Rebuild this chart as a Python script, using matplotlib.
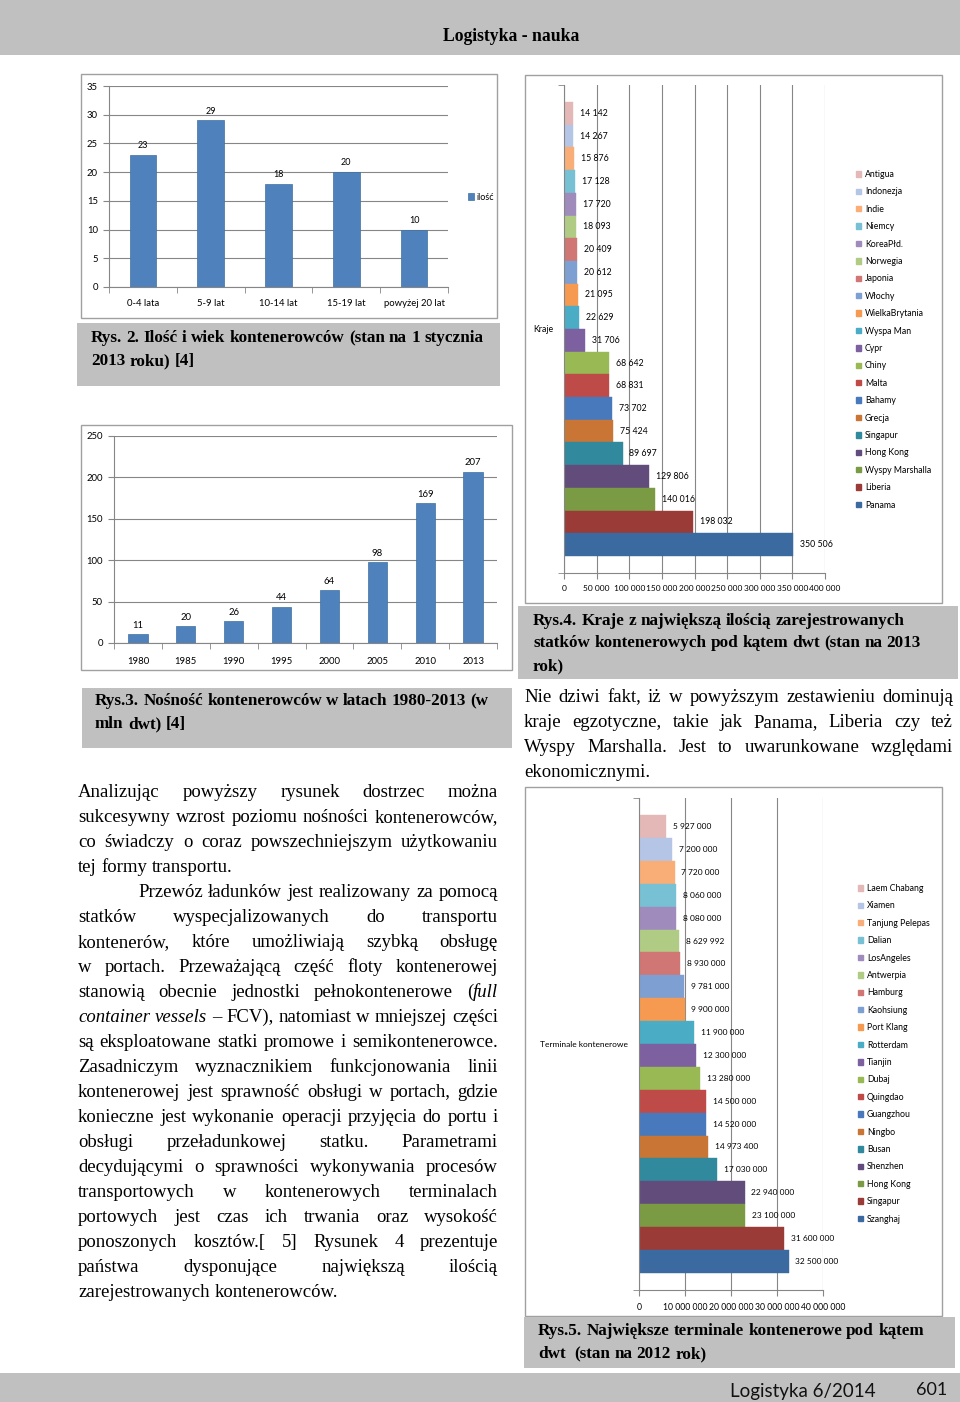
import numpy as np
import matplotlib.pyplot as plt
from matplotlib.patches import Rectangle, Patch

W, H = 960, 1402

# ---- data ----
age_groups = ['0-4 lata', '5-9 lat', '10-14 lat', '15-19 lat', 'powyżej 20 lat']
age_counts = [23, 29, 18, 20, 10]

years = ['1980', '1985', '1990', '1995', '2000', '2005', '2010', '2013']
capacity = [11, 20, 26, 44, 64, 98, 169, 207]

# top to bottom as drawn
countries = ['Antigua', 'Indonezja', 'Indie', 'Niemcy', 'KoreaPłd.', 'Norwegia', 'Japonia',
             'Włochy', 'WielkaBrytania', 'Wyspa Man', 'Cypr', 'Chiny', 'Malta', 'Bahamy',
             'Grecja', 'Singapur', 'Hong Kong', 'Wyspy Marshalla', 'Liberia', 'Panama']
country_dwt = [14142, 14267, 15876, 17128, 17720, 18093, 20409, 20612, 21095, 22629,
               31706, 68642, 68831, 73702, 75424, 89697, 129806, 140016, 198032, 350506]

terminals = ['Laem Chabang', 'Xiamen', 'Tanjung Pelepas', 'Dalian', 'LosAngeles', 'Antwerpia',
             'Hamburg', 'Kaohsiung', 'Port Klang', 'Rotterdam', 'Tianjin', 'Dubaj', 'Quingdao',
             'Guangzhou', 'Ningbo', 'Busan', 'Shenzhen', 'Hong Kong', 'Singapur', 'Szanghaj']
terminal_vals = [5927000, 7200000, 7720000, 8060000, 8080000, 8629992, 8930000, 9781000,
                 9900000, 11900000, 12300000, 13280000, 14500000, 14520000, 14973400,
                 17030000, 22940000, 23100000, 31600000, 32500000]

palette = ['#e4b8b7', '#b4c5e5', '#f9ae78', '#78c1d4', '#a08bbd', '#b0cb84', '#d07675',
           '#7e9fd2', '#f59a50', '#4aacc5', '#7d60a0', '#98b954', '#be4b48', '#4879bd',
           '#c87535', '#31899d', '#624c7c', '#7a9a43', '#9b3b38', '#3b6aa0']

left_lines = [
    ("Analizując powyższy rysunek dostrzec można", True, 0),
    ("sukcesywny wzrost poziomu nośności kontenerowców,", True, 0),
    ("co świadczy o coraz powszechniejszym użytkowaniu", True, 0),
    ("tej formy transportu.", False, 0),
    ("Przewóz ładunków jest realizowany za pomocą", True, 60),
    ("statków wyspecjalizowanych do transportu", True, 0),
    ("kontenerów, które umożliwiają szybką obsługę", True, 0),
    ("w portach. Przeważającą część floty kontenerowej", True, 0),
    ("stanowią obecnie jednostki pełnokontenerowe (*full*", True, 0),
    ("*container* *vessels* – FCV), natomiast w mniejszej części", True, 0),
    ("są eksploatowane statki promowe i semikontenerowce.", True, 0),
    ("Zasadniczym wyznacznikiem funkcjonowania linii", True, 0),
    ("kontenerowej jest sprawność obsługi w portach, gdzie", True, 0),
    ("konieczne jest wykonanie operacji przyjęcia do portu i", True, 0),
    ("obsługi przeładunkowej statku. Parametrami", True, 0),
    ("decydującymi o sprawności wykonywania procesów", True, 0),
    ("transportowych w kontenerowych terminalach", True, 0),
    ("portowych jest czas ich trwania oraz wysokość", True, 0),
    ("ponoszonych kosztów.[ 5] Rysunek 4 prezentuje", True, 0),
    ("państwa dysponujące największą ilością", True, 0),
    ("zarejestrowanych kontenerowców.", False, 0),
]
right_lines = [
    ("Nie dziwi fakt, iż w powyższym zestawieniu dominują", True, 0),
    ("kraje egzotyczne, takie jak Panama, Liberia czy też", True, 0),
    ("Wyspy Marshalla. Jest to uwarunkowane względami", True, 0),
    ("ekonomicznymi.", False, 0),
]

SERIF = 'Liberation Serif'
CF = ['Lato', 'DejaVu Sans']
GRID = '#868686'
BLUE = '#4f81bd'


def fmt(v):
    return f"{v:,}".replace(",", " ")


fig = plt.figure(figsize=(W / 100, H / 100), dpi=100)
bg = fig.add_axes([0, 0, 1, 1])
bg.set_xlim(0, W)
bg.set_ylim(H, 0)
bg.axis('off')
renderer = fig.canvas.get_renderer()


def px_axes(x0, y0, x1, y1):
    return fig.add_axes([x0 / W, 1 - y1 / H, (x1 - x0) / W, (y1 - y0) / H])


def rect(x0, y0, x1, y1, fc, ec='none', lw=0):
    bg.add_patch(Rectangle((x0, y0), x1 - x0, y1 - y0, fc=fc, ec=ec, lw=lw))


def text_line(x0, x1, y, line, justify, size, weight='normal'):
    words = line.split(' ')
    items, widths = [], []
    for w in words:
        parts, off = [], 0
        for k, seg in enumerate(w.split('*')):
            if not seg:
                continue
            t = bg.text(0, y, seg, fontsize=size, family=SERIF, weight=weight,
                        style='italic' if k % 2 else 'normal', va='baseline', ha='left')
            parts.append((t, off))
            off += t.get_window_extent(renderer=renderer).width
        items.append(parts)
        widths.append(off)
    if justify and len(words) > 1:
        gap = (x1 - x0 - sum(widths)) / (len(words) - 1)
    else:
        gap = 0.25 * size * 100 / 72
    x = x0
    for parts, w in zip(items, widths):
        for t, off in parts:
            t.set_x(x + off)
        x += w + gap


# ---- page furniture ----
rect(0, 0, W, 55, '#c0c0c0')
bg.text(511, 41, 'Logistyka - nauka', fontsize=12.7, family=SERIF, weight='bold', ha='center', va='baseline')
rect(0, 1373, W, H, '#c0c0c0')
bg.text(730, 1397, 'Logistyka 6/2014', fontsize=13.5, family=CF, ha='left', va='baseline', color='#111')
bg.text(916, 1395, '601', fontsize=13, family=CF, ha='left', va='baseline', color='#111')

# chart frames
for x0, y0, x1, y1 in [(81, 74, 497, 318), (81, 425, 512, 670), (525, 75, 942, 603), (525, 787, 942, 1316)]:
    rect(x0, y0, x1, y1, 'white', '#a0a0a0', 1)

# captions
rect(77, 323, 500, 386, '#c0c0c0')
text_line(91, 0, 342, "Rys. 2. Ilość i wiek kontenerowców (stan na 1 stycznia", False, 12.3, 'bold')
text_line(91, 0, 365, "2013 roku) [4]", False, 12.3, 'bold')
rect(82, 688, 512, 748, '#c0c0c0')
text_line(95, 0, 705, "Rys.3. Nośność kontenerowców w latach 1980-2013 (w", False, 12.3, 'bold')
text_line(95, 0, 728, "mln dwt) [4]", False, 12.3, 'bold')
rect(518, 606, 958, 679, '#c0c0c0')
text_line(533, 0, 625, "Rys.4. Kraje z największą ilością zarejestrowanych", False, 12.3, 'bold')
text_line(533, 0, 647, "statków kontenerowych pod kątem dwt (stan na 2013", False, 12.3, 'bold')
text_line(533, 0, 670, "rok)", False, 12.3, 'bold')
rect(524, 1317, 955, 1368, '#c0c0c0')
text_line(538, 0, 1335, "Rys.5. Największe terminale kontenerowe pod kątem", False, 12.3, 'bold')
text_line(538, 0, 1358, "dwt  (stan na 2012 rok)", False, 12.3, 'bold')

# body text
for i, (ln, just, ind) in enumerate(left_lines):
    text_line(78 + ind, 498, 797 + 25 * i, ln, just, 13.5)
for i, (ln, just, ind) in enumerate(right_lines):
    text_line(524 + ind, 953, 702 + 25 * i, ln, just, 13.5)


def style_axes(ax):
    for s in ['top', 'right']:
        ax.spines[s].set_visible(False)
    for s in ['left', 'bottom']:
        ax.spines[s].set_color(GRID)
        ax.spines[s].set_linewidth(0.8)
    ax.set_axisbelow(True)
    ax.set_facecolor('none')


# ---- Rys. 2 ----
ax1 = px_axes(109, 86, 448, 287)
style_axes(ax1)
x = np.arange(len(age_groups))
ax1.bar(x, age_counts, width=0.39, color=BLUE, edgecolor='#40709f', lw=0.5, label='ilość')
for xi, v in zip(x, age_counts):
    ax1.annotate(str(v), (xi, v), xytext=(0, 3.5), textcoords='offset points',
                 ha='center', va='bottom', fontsize=6.5, family=CF)
ax1.set_xlim(-0.5, len(age_groups) - 0.5)
ax1.set_ylim(0, 35)
ax1.set_yticks(range(0, 36, 5))
ax1.set_xticks(x, age_groups)
ax1.set_xticks(np.arange(-0.5, len(age_groups), 1), minor=True)
ax1.grid(axis='y', color=GRID, lw=0.8)
ax1.tick_params(axis='x', which='major', length=0, pad=9, labelsize=6.8)
ax1.tick_params(axis='x', which='minor', length=4, color=GRID)
ax1.tick_params(axis='y', length=4, color=GRID, pad=4, labelsize=6.8)
for lab in ax1.get_xticklabels() + ax1.get_yticklabels():
    lab.set_family(CF)
ax1.legend(loc='center left', bbox_to_anchor=(463 / W, 1 - 197 / H), bbox_transform=fig.transFigure,
           frameon=False, handlelength=0.7, handleheight=0.7, handletextpad=0.3,
           borderpad=0, prop={'family': CF, 'size': 6.5})

# ---- Rys. 3 ----
ax2 = px_axes(114, 436, 497, 643)
style_axes(ax2)
x = np.arange(len(years))
ax2.bar(x, capacity, width=0.4, color=BLUE, edgecolor='#40709f', lw=0.5)
for xi, v in zip(x, capacity):
    ax2.annotate(str(v), (xi, v), xytext=(0, 3), textcoords='offset points',
                 ha='center', va='bottom', fontsize=6.8, family=CF)
ax2.set_xlim(-0.5, len(years) - 0.5)
ax2.set_ylim(0, 250)
ax2.set_yticks(range(0, 251, 50))
ax2.set_xticks(x, years)
ax2.set_xticks(np.arange(-0.5, len(years), 1), minor=True)
ax2.grid(axis='y', color=GRID, lw=0.8)
ax2.tick_params(axis='x', which='major', length=0, pad=10, labelsize=6.8)
ax2.tick_params(axis='x', which='minor', length=4, color=GRID)
ax2.tick_params(axis='y', length=4, color=GRID, pad=4, labelsize=6.8)
for lab in ax2.get_xticklabels() + ax2.get_yticklabels():
    lab.set_family(CF)


def hbar_chart(ax, names, vals, xmax, step, cat_label, lab_size, tick_size, legend_xy):
    style_axes(ax)
    n = len(names)
    pos = np.arange(n)[::-1]
    ax.barh(pos, vals, height=1.0, color=palette, edgecolor=palette, lw=0.3)
    for p, v in zip(pos, vals):
        ax.annotate(fmt(v), (v, p), xytext=(5, 0), textcoords='offset points',
                    ha='left', va='center', fontsize=lab_size, family=CF)
    ax.set_xlim(0, xmax)
    ax.set_ylim(-1.25, n + 0.25)
    ticks = np.arange(0, xmax + 1, step)
    ax.set_xticks(ticks, [fmt(int(t)) for t in ticks])
    ax.set_yticks([(n - 1) / 2], [cat_label])
    ax.set_yticks([-1.25, n + 0.25], minor=True)
    ax.grid(axis='x', color=GRID, lw=0.8)
    ax.tick_params(axis='x', length=4, color=GRID, pad=5, labelsize=tick_size)
    ax.tick_params(axis='y', which='major', length=0, pad=8, labelsize=lab_size)
    ax.tick_params(axis='y', which='minor', length=4, color=GRID)
    for lab in ax.get_xticklabels() + ax.get_yticklabels():
        lab.set_family(CF)
    handles = [Patch(fc=c, ec=c) for c in palette]
    ax.legend(handles, names, loc='upper left',
              bbox_to_anchor=(legend_xy[0] / W, 1 - legend_xy[1] / H), bbox_transform=fig.transFigure,
              frameon=False, handlelength=0.6, handleheight=0.6, handletextpad=0.4,
              labelspacing=0.96, borderpad=0, borderaxespad=0, prop={'family': CF, 'size': 6.3})


# ---- Rys. 4 ----
ax3 = px_axes(564, 85, 825, 573)
hbar_chart(ax3, countries, country_dwt, 400000, 50000, 'Kraje', 6.3, 6.0, (856, 170))

# ---- Rys. 5 ----
ax4 = px_axes(639, 798, 823, 1290)
hbar_chart(ax4, terminals, terminal_vals, 40000000, 10000000, 'Terminale kontenerowe', 6.0, 6.2, (858, 884))

fig.savefig('out.png', dpi=100)
